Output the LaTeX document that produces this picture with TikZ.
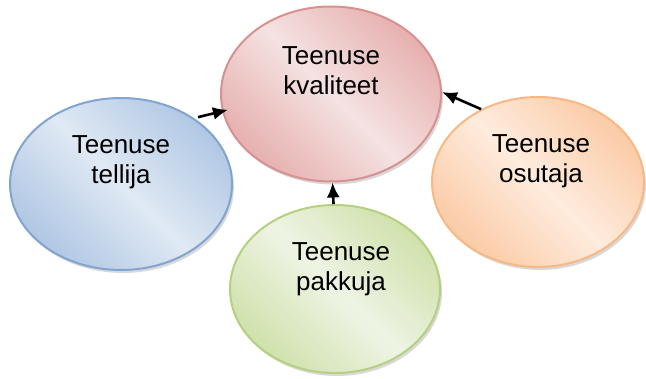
\documentclass[tikz,border=0pt]{standalone}
\usepackage{fontspec}
\setmainfont{Liberation Sans}
\usetikzlibrary{arrows.meta,shapes.geometric,shadows}

\definecolor{redline}{RGB}{214,146,144}
\definecolor{reddark}{RGB}{230,176,175}
\definecolor{redlight}{RGB}{245,226,226}
\definecolor{blueline}{RGB}{130,164,207}
\definecolor{bluedark}{RGB}{176,199,228}
\definecolor{bluelight}{RGB}{224,233,244}
\definecolor{orangeline}{RGB}{248,184,132}
\definecolor{orangedark}{RGB}{251,203,166}
\definecolor{orangelight}{RGB}{254,236,222}
\definecolor{greenline}{RGB}{180,208,128}
\definecolor{greendark}{RGB}{208,225,172}
\definecolor{greenlight}{RGB}{238,244,228}

\begin{document}
\begin{tikzpicture}[x=1pt,y=-1pt,>={Latex[length=15pt,width=13pt]},
  oval/.style={ellipse, draw=#1line, line width=2pt, inner sep=0pt,
    left color=#1dark, right color=#1dark, middle color=#1light, shading angle=-45,
    drop shadow={shadow xshift=2pt, shadow yshift=-3pt, opacity=0.3}}]
  \tikzstyle{lbl}=[align=center, inner sep=0pt, font=\fontsize{26}{30}\selectfont]
  \tikzstyle{link}=[->, line width=2.6pt]
  \useasboundingbox (0,0) rectangle (646,379);

  % ovaalid
  \node[oval=red, minimum width=220pt, minimum height=175pt]    (kval) at (331,94)  {};
  \node[oval=blue, minimum width=222pt, minimum height=172pt]   (tell) at (121,184) {};
  \node[oval=orange, minimum width=212pt, minimum height=170pt] (osut) at (538,182) {};
  \node[oval=green, minimum width=210pt, minimum height=168pt]  (pakk) at (335,289) {};

  % tekstid
  \node[lbl] (kvaltxt) at (331,71)  {Teenuse\\kvaliteet};
  \node[lbl] (telltxt) at (121,162) {Teenuse\\tellija};
  \node[lbl] (osuttxt) at (541,161) {Teenuse\\osutaja};
  \node[lbl] (pakktxt) at (341,269) {Teenuse\\pakkuja};

  % nooled
  \draw[link, shorten <=4pt, shorten >=-6pt] (tell.42) -- (kval.189);
  \draw[link] (osut.128) -- (kval.1);
  \draw[link] (pakk.91) -- (kval.271);
\end{tikzpicture}
\end{document}
